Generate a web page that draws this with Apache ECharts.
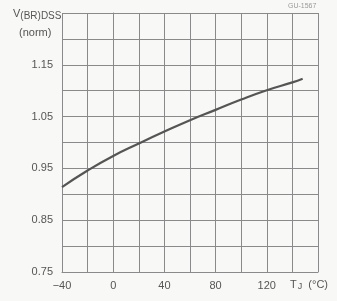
<!DOCTYPE html>
<html>
<head>
<meta charset="utf-8">
<script src="https://cdn.jsdelivr.net/npm/echarts@6/dist/echarts.min.js"></script>
<style>
  html, body { margin: 0; padding: 0; background: #f8f8f6; }
  #chart { width: 337px; height: 301px; }
</style>
</head>
<body>
<div id="chart"></div>
<script>
// temperature (°C) and normalised breakdown voltage
const tempC = [-40, -20, 0, 20, 40, 60, 80, 100, 120, 140, 148];
const vNorm = [0.914, 0.946, 0.974, 0.998, 1.021, 1.043, 1.063, 1.083, 1.101, 1.116, 1.123];
const xTickLabels = [-40, 0, 40, 80, 120];
const yTickLabels = ['0.75', '0.85', '0.95', '1.05', '1.15'];

const chart = echarts.init(document.getElementById('chart'));
const font = 'Liberation Sans';
const gridColor = '#8a8a8a';
const textColor = '#555';

const option = {
    backgroundColor: '#f8f8f6',
    animation: false,
    grid: { left: 62, right: 19, top: 13, bottom: 29 },
    xAxis: {
        type: 'value', min: -40, max: 160, interval: 20,
        axisLine: { show: true, lineStyle: { color: gridColor, width: 1 } },
        axisTick: { show: false },
        splitLine: { show: true, lineStyle: { color: gridColor, width: 1 } },
        axisLabel: {
            color: textColor, fontFamily: font, fontSize: 11, margin: 8,
            formatter: v => xTickLabels.includes(v) ? String(v).replace('-', '\u2212') : ''
        }
    },
    yAxis: {
        type: 'value', min: 0.75, max: 1.25, interval: 0.05,
        axisLine: { show: true, lineStyle: { color: gridColor, width: 1 } },
        axisTick: { show: false },
        splitLine: { show: true, lineStyle: { color: gridColor, width: 1 } },
        axisLabel: {
            color: textColor, fontFamily: font, fontSize: 11, margin: 9,
            formatter: v => {
                const s = v.toFixed(2);
                return yTickLabels.includes(s) ? s : '';
            }
        }
    },
    graphic: [
        {
            type: 'text', left: 13, top: 8,
            style: {
                text: '{v|V}{s|(BR)DSS}', fontFamily: font,
                rich: {
                    v: { fontSize: 11, fill: textColor, fontFamily: font },
                    s: { fontSize: 10, fill: textColor, fontFamily: font, verticalAlign: 'bottom', padding: [6, 0, 0, 0] }
                }
            }
        },
        {
            type: 'text', left: 19, top: 27,
            style: { text: '(norm)', fontSize: 11, fill: textColor, fontFamily: font }
        },
        {
            type: 'text', left: 288, top: 3,
            style: { text: 'GU-1567', fontSize: 7, fill: '#999', fontFamily: font }
        },
        {
            type: 'text', left: 290, top: 279,
            style: {
                text: '{t|T}{j|J}{u|  (°C)}', fontFamily: font,
                rich: {
                    t: { fontSize: 11, fill: textColor, fontFamily: font },
                    j: { fontSize: 9, fill: textColor, fontFamily: font, padding: [4, 0, 0, 1] },
                    u: { fontSize: 11, fill: textColor, fontFamily: font }
                }
            }
        }
    ],
    series: [{
        type: 'line',
        data: tempC.map((t, i) => [t, vNorm[i]]),
        smooth: true,
        showSymbol: false,
        lineStyle: { color: '#555', width: 2.2 }
    }]
};

chart.setOption(option);
</script>
</body>
</html>
